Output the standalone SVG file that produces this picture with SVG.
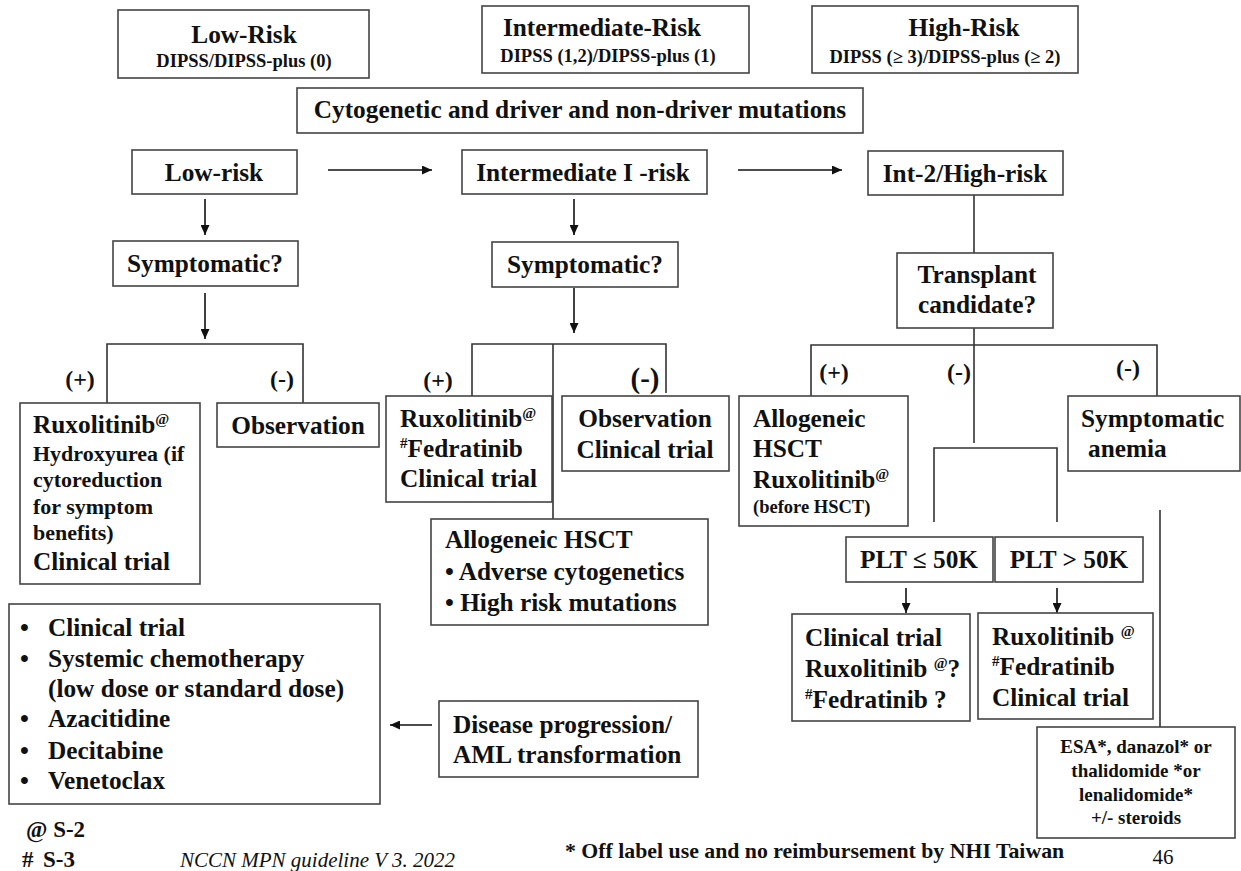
<svg xmlns="http://www.w3.org/2000/svg" width="1241" height="871" viewBox="0 0 1241 871">
<style>
.box{fill:#fff;stroke:#444;stroke-width:1.6}
.t{font-family:"Liberation Serif","Tinos","Times New Roman","Nimbus Roman","DejaVu Serif",serif;font-weight:bold;fill:#111}
.i{font-family:"Liberation Serif","Tinos","Times New Roman","Nimbus Roman","DejaVu Serif",serif;fill:#111}
.b{font-size:25.3px}
.m{font-size:22px}
.s{font-size:18.5px}
.sup{font-size:15px}
.c{text-anchor:middle}
.ln{fill:none;stroke:#333;stroke-width:1.6}
.ar{fill:none;stroke:#111;stroke-width:1.6;marker-end:url(#ah)}
</style>
<defs>
<marker id="ah" markerUnits="userSpaceOnUse" markerWidth="11" markerHeight="9" refX="10" refY="4.5" orient="auto">
<path d="M0,0 L10,4.5 L0,9 z" fill="#111"/>
</marker>
</defs>
<rect width="1241" height="871" fill="#fff"/>

<g id="connectors">
<line class="ar" x1="328" y1="170" x2="432" y2="170"/>
<line class="ar" x1="738" y1="170" x2="842" y2="170"/>
<line class="ar" x1="205" y1="199" x2="205" y2="235"/>
<line class="ar" x1="574" y1="199" x2="574" y2="235"/>
<line class="ar" x1="205" y1="293" x2="205" y2="339"/>
<line class="ar" x1="574" y1="288" x2="574" y2="333"/>
<path class="ln" d="M107,403 V344 H303 V403"/>
<path class="ln" d="M472,396 V344 H666 V393 M553,344 V519"/>
<path class="ln" d="M974,195 V253"/>
<path class="ln" d="M974,328 V443 M811,396 V345 H1157 V396"/>
<path class="ln" d="M934,522 V448 H1057 V522"/>
<line class="ar" x1="906" y1="588" x2="906" y2="613"/>
<line class="ar" x1="1057" y1="588" x2="1057" y2="613"/>
<path class="ln" d="M1160,510 V727"/>
<line class="ar" x1="432" y1="725" x2="390" y2="725"/>
</g>

<g id="low-risk-header">
<rect class="box" x="118" y="10" width="251" height="68"/>
<text class="t b c" x="244" y="43">Low-Risk</text>
<text class="t s c" x="244" y="67">DIPSS/DIPSS-plus (0)</text>
</g>
<g id="intermediate-risk-header">
<rect class="box" x="482" y="6" width="267" height="67"/>
<text class="t b c" x="602" y="36">Intermediate-Risk</text>
<text class="t s c" x="608" y="62">DIPSS (1,2)/DIPSS-plus (1)</text>
</g>
<g id="high-risk-header">
<rect class="box" x="812" y="6" width="266" height="67"/>
<text class="t b c" x="964" y="36">High-Risk</text>
<text class="t s c" x="945" y="63">DIPSS (≥ 3)/DIPSS-plus (≥ 2)</text>
</g>
<g id="cytogenetic">
<rect class="box" x="297" y="88" width="566" height="45"/>
<text class="t b c" x="580" y="118">Cytogenetic and driver and non-driver mutations</text>
</g>

<g id="low-risk">
<rect class="box" x="132" y="150" width="165" height="44"/>
<text class="t b c" x="214" y="181">Low-risk</text>
</g>
<g id="intermediate-1-risk">
<rect class="box" x="462" y="150" width="245" height="44"/>
<text class="t b c" x="583" y="181">Intermediate I -risk</text>
</g>
<g id="int2-high-risk">
<rect class="box" x="868" y="151" width="195" height="44"/>
<text class="t b c" x="965" y="182">Int-2/High-risk</text>
</g>

<g id="symptomatic-low">
<rect class="box" x="113" y="241" width="185" height="45"/>
<text class="t b c" x="205" y="272">Symptomatic?</text>
</g>
<g id="symptomatic-int">
<rect class="box" x="492" y="242" width="186" height="45"/>
<text class="t b c" x="585" y="273">Symptomatic?</text>
</g>
<g id="transplant">
<rect class="box" x="897" y="253" width="156" height="75"/>
<text class="t b c" x="977" y="283">Transplant</text>
<text class="t b c" x="977" y="313">candidate?</text>
</g>

<g id="labels">
<text class="t c" style="font-size:24px" x="80" y="387">(+)</text>
<text class="t c" style="font-size:24px" x="282" y="387">(-)</text>
<text class="t c" style="font-size:24px" x="438" y="388">(+)</text>
<text class="t c" style="font-size:29px" x="645" y="388">(-)</text>
<text class="t c" style="font-size:24px" x="834" y="380">(+)</text>
<text class="t c" style="font-size:24px" x="959" y="380">(-)</text>
<text class="t c" style="font-size:24px" x="1128" y="376">(-)</text>
</g>

<g id="low-positive">
<rect class="box" x="20" y="403" width="180" height="181"/>
<text class="t b" x="33" y="433">Ruxolitinib<tspan class="sup" dy="-9">@</tspan></text>
<text class="t m" x="33" y="461">Hydroxyurea (if</text>
<text class="t m" x="33" y="487">cytoreduction</text>
<text class="t m" x="33" y="514">for symptom</text>
<text class="t m" x="33" y="540">benefits)</text>
<text class="t b" x="33" y="570">Clinical trial</text>
</g>
<g id="low-negative">
<rect class="box" x="217" y="403" width="162" height="44"/>
<text class="t b c" x="298" y="434">Observation</text>
</g>

<g id="int-positive">
<rect class="box" x="386" y="396" width="166" height="106"/>
<text class="t b" x="400" y="427">Ruxolitinib<tspan class="sup" dy="-9">@</tspan></text>
<text class="t b" x="400" y="457"><tspan class="sup" dy="-9">#</tspan><tspan dy="9">Fedratinib</tspan></text>
<text class="t b" x="400" y="487">Clinical trial</text>
</g>
<g id="int-negative">
<rect class="box" x="562" y="396" width="167" height="75"/>
<text class="t b c" x="645" y="427">Observation</text>
<text class="t b c" x="645" y="458">Clinical trial</text>
</g>
<g id="int-hsct">
<rect class="box" x="431" y="519" width="277" height="106"/>
<text class="t b" x="445" y="548">Allogeneic HSCT</text>
<text class="t b" x="445" y="580">• Adverse cytogenetics</text>
<text class="t b" x="445" y="611">• High risk mutations</text>
</g>

<g id="high-positive">
<rect class="box" x="739" y="396" width="169" height="130"/>
<text class="t b" x="753" y="427">Allogeneic</text>
<text class="t b" x="753" y="457">HSCT</text>
<text class="t b" x="753" y="488">Ruxolitinib<tspan class="sup" dy="-9">@</tspan></text>
<text class="t s" x="753" y="513">(before HSCT)</text>
</g>
<g id="symptomatic-anemia">
<rect class="box" x="1068" y="396" width="172" height="75"/>
<text class="t b" x="1081" y="427">Symptomatic</text>
<text class="t b" x="1088" y="457">anemia</text>
</g>

<g id="plt-low">
<rect class="box" x="846" y="537" width="147" height="45"/>
<text class="t b c" x="919" y="568">PLT ≤ 50K</text>
</g>
<g id="plt-high">
<rect class="box" x="995" y="537" width="148" height="45"/>
<text class="t b c" x="1069" y="568">PLT &gt; 50K</text>
</g>

<g id="plt-low-treatment">
<rect class="box" x="792" y="614" width="178" height="107"/>
<text class="t b" x="805" y="646">Clinical trial</text>
<text class="t b" x="805" y="677">Ruxolitinib <tspan class="sup" dy="-9">@</tspan><tspan dy="9">?</tspan></text>
<text class="t b" x="805" y="708"><tspan class="sup" dy="-9">#</tspan><tspan dy="9">Fedratinib ?</tspan></text>
</g>
<g id="plt-high-treatment">
<rect class="box" x="978" y="613" width="175" height="106"/>
<text class="t b" x="992" y="645">Ruxolitinib <tspan class="sup" dy="-9">@</tspan></text>
<text class="t b" x="992" y="675"><tspan class="sup" dy="-9">#</tspan><tspan dy="9">Fedratinib</tspan></text>
<text class="t b" x="992" y="706">Clinical trial</text>
</g>
<g id="anemia-treatment">
<rect class="box" x="1037" y="727" width="198" height="111"/>
<text class="t c" style="font-size:19px" x="1136" y="753">ESA*, danazol* or</text>
<text class="t c" style="font-size:19px" x="1136" y="777">thalidomide *or</text>
<text class="t c" style="font-size:19px" x="1136" y="801">lenalidomide*</text>
<text class="t c" style="font-size:19px" x="1136" y="824">+/- steroids</text>
</g>

<g id="progression-treatment">
<rect class="box" x="9" y="604" width="371" height="200"/>
<text class="t b" x="20" y="636">•</text>
<text class="t b" x="48" y="636">Clinical trial</text>
<text class="t b" x="20" y="667">•</text>
<text class="t b" x="48" y="667">Systemic chemotherapy</text>
<text class="t b" x="48" y="697">(low dose or standard dose)</text>
<text class="t b" x="20" y="727">•</text>
<text class="t b" x="48" y="727">Azacitidine</text>
<text class="t b" x="20" y="759">•</text>
<text class="t b" x="48" y="759">Decitabine</text>
<text class="t b" x="20" y="789">•</text>
<text class="t b" x="48" y="789">Venetoclax</text>
</g>
<g id="disease-progression">
<rect class="box" x="439" y="701" width="259" height="76"/>
<text class="t b" x="453" y="733">Disease progression/</text>
<text class="t b" x="453" y="763">AML transformation</text>
</g>

<g id="footer">
<text class="t" style="font-size:23px" x="26" y="837">@ S-2</text>
<text class="t" style="font-size:23px" x="22" y="867">#</text>
<text class="t" style="font-size:23px" x="43" y="867">S-3</text>
<text class="i" style="font-style:italic;font-size:21px" x="180" y="867">NCCN MPN guideline V 3. 2022</text>
<text class="t" style="font-size:21.8px" x="565" y="858">* Off label use and no reimbursement by NHI Taiwan</text>
<text class="i c" style="font-size:21px" x="1163" y="864">46</text>
</g>
</svg>
